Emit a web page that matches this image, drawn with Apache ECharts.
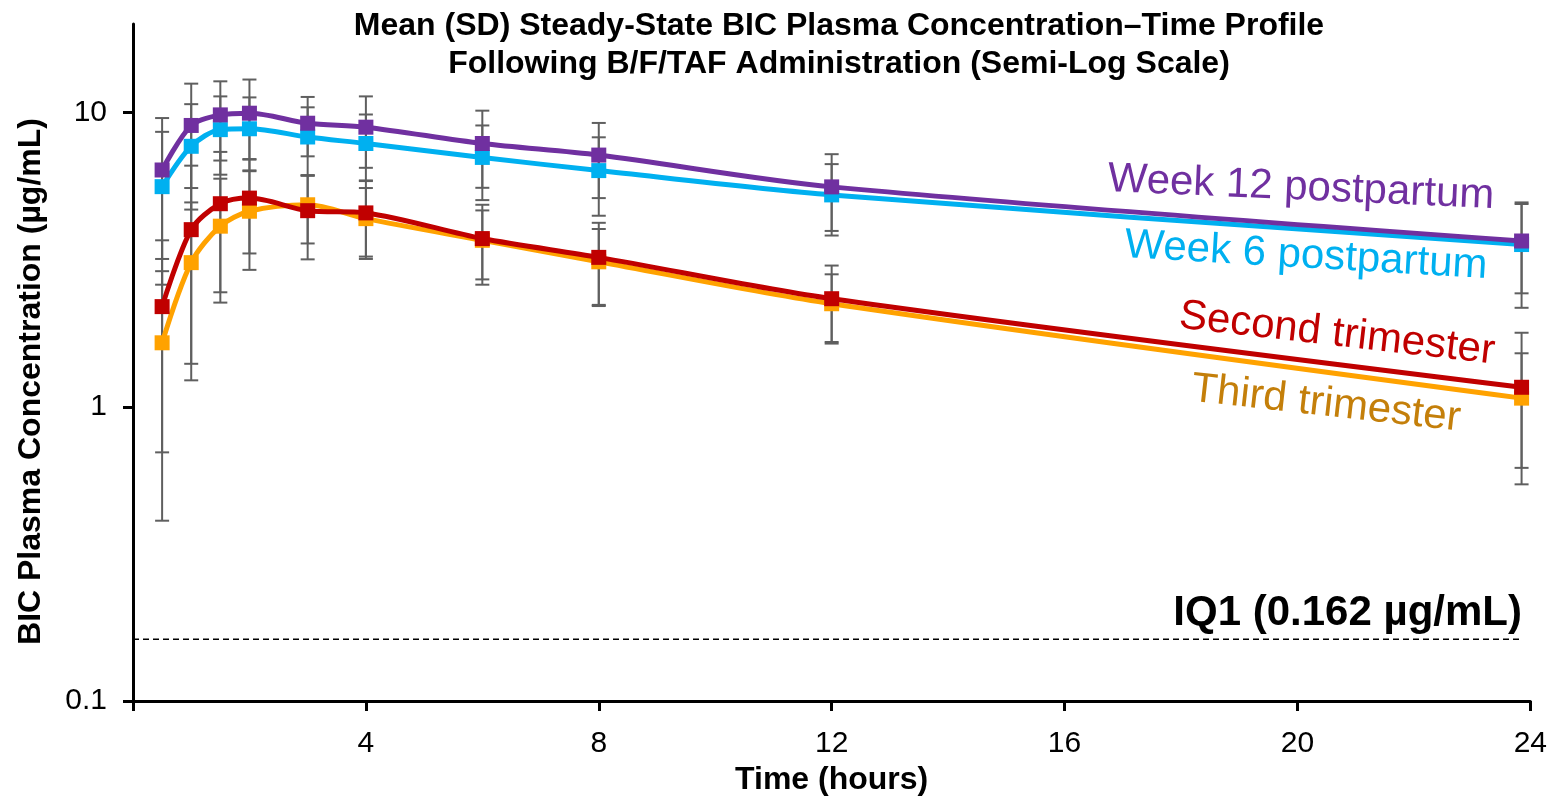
<!DOCTYPE html>
<html>
<head>
<meta charset="utf-8">
<script src="https://cdn.jsdelivr.net/npm/echarts@6/dist/echarts.min.js"></script>
<style>
html,body{margin:0;padding:0;background:#fff;}
#chart{width:1550px;height:801px;}
</style>
</head>
<body>
<div id="chart"></div>
<script>
// ---- data (hours, µg/mL) ----
var times = [0.5, 1, 1.5, 2, 3, 4, 6, 8, 12, 23.85];
var week12 = [6.38, 9.04, 9.82, 9.95, 9.2, 8.92, 7.85, 7.17, 5.59, 3.66];
var week12SD = [3.2, 3.5, 2.95, 3.0, 2.1, 2.43, 2.3, 2.05, 1.63, 1.23];
var week6 = [5.60, 7.68, 8.75, 8.81, 8.26, 7.85, 7.04, 6.35, 5.25, 3.56];
var week6SD = [3.0, 3.0, 2.6, 2.45, 2.16, 2.0, 2.0, 1.89, 1.43, 1.39];
var second = [2.19, 4.0, 4.90, 5.12, 4.64, 4.56, 3.73, 3.22, 2.33, 1.165];
var secondSD = [1.49, 2.6, 2.45, 1.8, 1.47, 1.32, 1.13, 1.0, 0.69, 0.62];
var third = [1.65, 3.09, 4.11, 4.62, 4.86, 4.36, 3.68, 3.11, 2.24, 1.07];
var thirdSD = [1.24, 1.86, 1.85, 1.7, 1.27, 1.18, 0.97, 0.91, 0.58, 0.45];
var iq1 = 0.162;
var xTicks = [4, 8, 12, 16, 20, 24];
var yTicks = [0.1, 1, 10];
var seriesNames = ['Week 12 postpartum', 'Week 6 postpartum', 'Second trimester', 'Third trimester'];

var FONT = "'Liberation Sans', Arial, sans-serif";
var colors = ['#7030A0', '#00B0F0', '#C00000', '#FFA200'];
var labelColors = ['#7030A0', '#00B0F0', '#C00000', '#C47F0A'];
var means = [week12, week6, second, third];
var sds = [week12SD, week6SD, secondSD, thirdSD];

function pairs(ys) { return times.map(function (t, i) { return [t, ys[i]]; }); }
function errData(ys, sd) {
  return times.map(function (t, i) { return [t, ys[i] - sd[i], ys[i] + sd[i]]; });
}

function renderErr(params, api) {
  var x = api.value(0);
  var lo = api.coord([x, api.value(1)]);
  var hi = api.coord([x, api.value(2)]);
  var w = 7;
  var st = { stroke: '#5f5f5f', lineWidth: 2 };
  return {
    type: 'group',
    children: [
      { type: 'line', shape: { x1: lo[0], y1: lo[1], x2: hi[0], y2: hi[1] }, style: st },
      { type: 'line', shape: { x1: lo[0] - w, y1: lo[1], x2: lo[0] + w, y2: lo[1] }, style: st },
      { type: 'line', shape: { x1: hi[0] - w, y1: hi[1], x2: hi[0] + w, y2: hi[1] }, style: st }
    ]
  };
}

var series = [];
for (var k = 0; k < 4; k++) {
  series.push({
    type: 'custom',
    name: seriesNames[k] + ' SD',
    renderItem: renderErr,
    data: errData(means[k], sds[k]),
    encode: { x: 0, y: [1, 2] },
    z: 1,
    silent: true
  });
}
series.push({
  type: 'line',
  name: 'IQ1',
  data: [[0, iq1], [times[times.length - 1], iq1]],
  symbol: 'none',
  lineStyle: { color: '#000', width: 1.5, type: [6, 4] },
  z: 2,
  silent: true
});
var order = [1, 0, 3, 2];
order.forEach(function (k) {
  series.push({
    type: 'line',
    name: seriesNames[k],
    data: pairs(means[k]),
    smooth: 0.3,
    symbol: 'rect',
    symbolSize: 15,
    showAllSymbol: true,
    itemStyle: { color: colors[k] },
    lineStyle: { color: colors[k], width: 5 },
    z: 3 + (k === 0 || k === 2 ? 1 : 0)
  });
});

var chart = echarts.init(document.getElementById('chart'), null, { renderer: 'canvas' });
chart.setOption({
  animation: false,
  backgroundColor: '#fff',
  textStyle: { fontFamily: FONT },
  title: {
    text: 'Mean (SD) Steady-State BIC Plasma Concentration\u2013Time Profile\nFollowing B/F/TAF Administration (Semi-Log Scale)',
    left: 834,
    textAlign: 'center',
    top: 2,
    textStyle: { fontFamily: FONT, fontSize: 32, fontWeight: 'bold', color: '#000', lineHeight: 38 }
  },
  grid: { left: 133, right: 19, top: 24, bottom: 95, containLabel: false },
  xAxis: {
    type: 'value',
    min: 0,
    max: 24,
    interval: 4,
    name: 'Time (hours)',
    nameLocation: 'middle',
    nameGap: 63,
    nameTextStyle: { fontFamily: FONT, fontSize: 32, fontWeight: 'bold', color: '#000' },
    axisLine: { lineStyle: { color: '#000', width: 3 } },
    axisTick: { show: true, length: 10, lineStyle: { color: '#000', width: 3 } },
    axisLabel: {
      fontFamily: FONT, fontSize: 30, color: '#000', margin: 28,
      formatter: function (v) { return v === 0 ? '' : String(v); }
    },
    splitLine: { show: false }
  },
  yAxis: {
    type: 'log',
    logBase: 10,
    min: 0.1,
    max: 20,
    name: 'BIC Plasma Concentration (\u00b5g/mL)',
    nameLocation: 'middle',
    nameGap: 86,
    nameTextStyle: { fontFamily: FONT, fontSize: 32, fontWeight: 'bold', color: '#000', padding: [0, 38, 0, 0] },
    axisLine: { show: true, lineStyle: { color: '#000', width: 3 } },
    axisTick: { show: true, length: 10, lineStyle: { color: '#000', width: 3 }, customValues: yTicks },
    axisLabel: {
      fontFamily: FONT, fontSize: 30, color: '#000', margin: 26,
      customValues: yTicks,
      formatter: function (v) {
        for (var i = 0; i < yTicks.length; i++) { if (Math.abs(v - yTicks[i]) < 1e-9) return String(yTicks[i]); }
        return '';
      }
    },
    splitLine: { show: false }
  },
  graphic: [
    { type: 'text', x: 1301, y: 188, rotation: -0.044, style: { text: seriesNames[0], fill: labelColors[0], font: '42px ' + FONT, textAlign: 'center', textVerticalAlign: 'middle' } },
    { type: 'text', x: 1306, y: 256, rotation: -0.058, style: { text: seriesNames[1], fill: labelColors[1], font: '42px ' + FONT, textAlign: 'center', textVerticalAlign: 'middle' } },
    { type: 'text', x: 1337, y: 334, rotation: -0.114, style: { text: seriesNames[2], fill: labelColors[2], font: '42px ' + FONT, textAlign: 'center', textVerticalAlign: 'middle' } },
    { type: 'text', x: 1326, y: 404, rotation: -0.112, style: { text: seriesNames[3], fill: labelColors[3], font: '42px ' + FONT, textAlign: 'center', textVerticalAlign: 'middle' } },
    { type: 'text', x: 1522, y: 613, style: { text: 'IQ1 (0.162 \u00b5g/mL)', fill: '#000', font: 'bold 42px ' + FONT, textAlign: 'right', textVerticalAlign: 'middle' } }
  ],
  series: series
});
</script>
</body>
</html>
